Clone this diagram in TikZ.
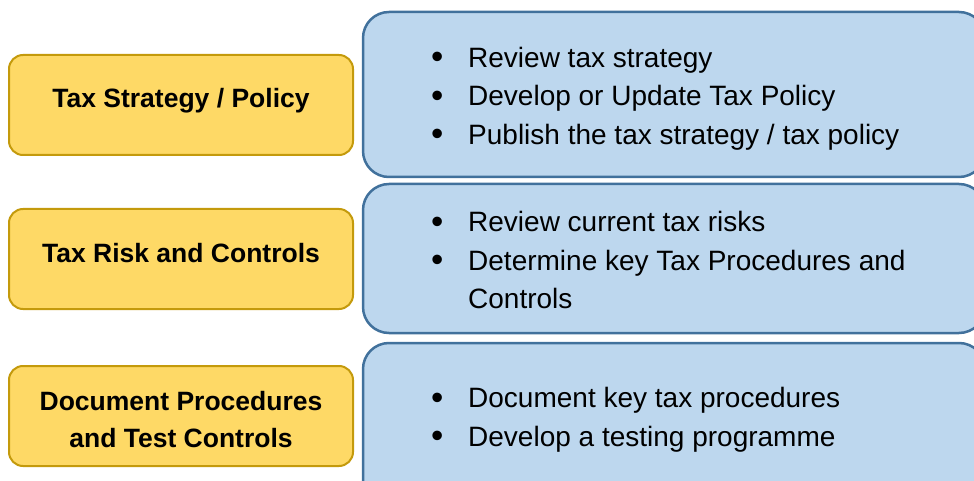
\documentclass[tikz,border=0pt]{standalone}
\usepackage{fontspec}
\setmainfont{Liberation Sans}
\usetikzlibrary{positioning}

\definecolor{stagefill}{HTML}{FED966}
\definecolor{stageline}{HTML}{C49A0C}
\definecolor{taskfill}{HTML}{BDD7EE}
\definecolor{taskline}{HTML}{41719C}

\tikzset{
  stage/.style={draw=stageline, fill=stagefill, line width=2pt,
    rounded corners=14pt, minimum width=344pt, minimum height=100pt,
    align=center, font=\fontsize{26.5}{37}\selectfont\bfseries,
    text height=20pt, text depth=14pt},
  tasks/.style={draw=taskline, fill=taskfill, line width=2.5pt,
    rounded corners=26pt, minimum width=622pt},
  tasklist/.style={anchor=west, inner sep=0pt, font=\fontsize{28}{38.5}\selectfont}
}
\newcommand{\taskdot}{\raisebox{-1.5pt}{\scalebox{1.25}{\textbullet}}}

\begin{document}
\begin{tikzpicture}[x=1pt, y=-1pt]

    \useasboundingbox (0,0) rectangle (974,481);

    % left column: the three stages
    \node [stage] (policy)   at (181,105) {Tax Strategy / Policy};
    \node [stage] (risk)     at (181,259) {Tax Risk and Controls};
    \node [stage, text height=62pt, text depth=0pt] (document) at (181,416)
      {Document Procedures\\and Test Controls};

    % right column: what is done in each stage
    \node [tasks, minimum height=165pt] (policybox)   at (674,94.5) {};
    \node [tasks, minimum height=149pt] (riskbox)     at (674,258.5) {};
    \node [tasks, minimum height=162pt] (documentbox) at (674,424) {};

    \node [tasklist] (policylist) at (431,98) {%
      \begin{tabular}{@{}p{37pt}@{}l@{}}
      \taskdot & Review tax strategy\\
      \taskdot & Develop or Update Tax Policy\\
      \taskdot & Publish the tax strategy / tax policy
      \end{tabular}};

    \node [tasklist] (risklist) at (431,262.5) {%
      \begin{tabular}{@{}p{37pt}@{}l@{}}
      \taskdot & Review current tax risks\\
      \taskdot & Determine key Tax Procedures and\\
               & Controls
      \end{tabular}};

    \node [tasklist] (documentlist) at (431,419.5) {%
      \begin{tabular}{@{}p{37pt}@{}l@{}}
      \taskdot & Document key tax procedures\\
      \taskdot & Develop a testing programme
      \end{tabular}};

\end{tikzpicture}
\end{document}
